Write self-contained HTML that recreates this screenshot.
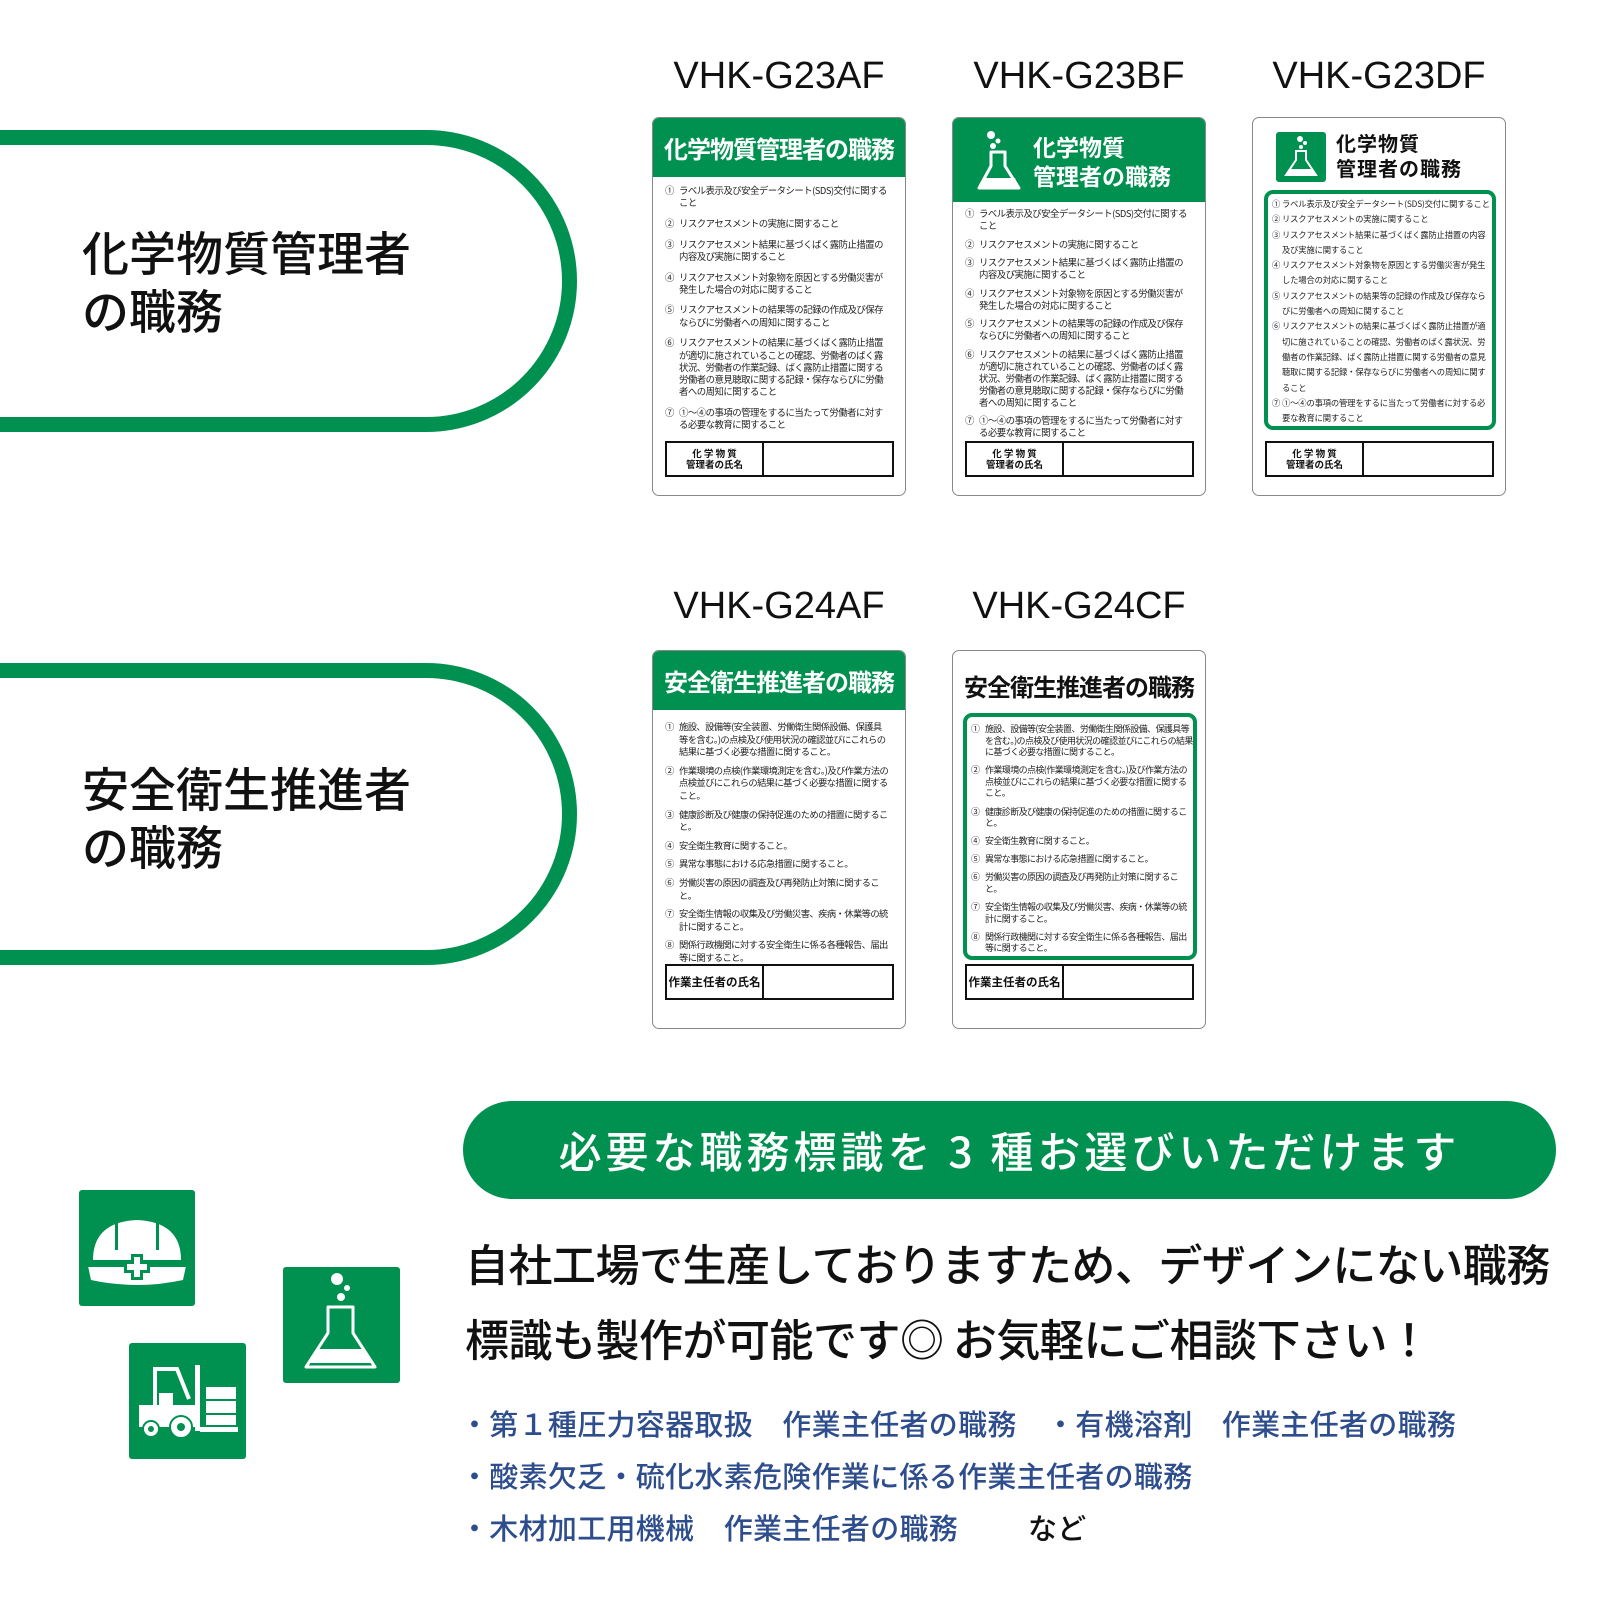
<!DOCTYPE html>
<html><head><meta charset="utf-8">
<style>
*{margin:0;padding:0;box-sizing:border-box}
body{width:1600px;height:1600px;background:#fff;position:relative;overflow:hidden;font-family:"Liberation Sans","Noto Sans CJK JP",sans-serif;color:#111}
.abs{position:absolute}
.lbl{position:absolute;width:300px;text-align:center;font-size:38px;font-family:"Liberation Sans",sans-serif;color:#111;line-height:40px}
.card{position:absolute;width:254px;height:379px;border:1.5px solid #888;border-radius:7px;background:#fff;overflow:hidden}
.hdr{position:absolute;left:0;top:0;width:100%;background:#009150;color:#fff;font-weight:bold;font-family:"Noto Sans CJK JP",sans-serif}
.items{position:absolute;font-family:"Noto Sans CJK JP",sans-serif;font-size:9.4px;line-height:12.2px;color:#222;letter-spacing:-0.5px}
.it{position:relative;padding-left:14px;margin-bottom:8.5px}
.it span{position:absolute;left:0;top:0}
.name{position:absolute;border:2.5px solid #111;height:36px;display:flex;background:#fff}
.name .l{width:97px;border-right:2px solid #111;font-family:"Noto Sans CJK JP",sans-serif;font-weight:bold;font-size:9.5px;line-height:11px;display:flex;align-items:center;justify-content:center;text-align:center}
.pill{position:absolute;left:-40px;width:617px;border:15px solid #009150;border-radius:0 151px 151px 0}
.pt{position:absolute;left:82px;font-family:"Noto Sans CJK JP",sans-serif;font-weight:500;font-size:47px;line-height:58px;color:#111}
.g3 .items{font-size:8.3px;line-height:15.3px;letter-spacing:-0.15px}
.g3 .it{padding-left:10px;margin-bottom:0}
.blue{position:absolute;left:460px;font-family:"Noto Sans CJK JP",sans-serif;font-size:29px;line-height:36px;color:#2e4d8c;white-space:pre;font-weight:500;letter-spacing:0.3px}
</style></head><body>

<div class="pill" style="top:130px;height:302px"></div>
<div class="pt" style="top:222px">化学物質管理者<br>の職務</div>
<div class="pill" style="top:663px;height:302px"></div>
<div class="pt" style="top:758px">安全衛生推進者<br>の職務</div>

<div class="lbl" style="left:629px;top:56px">VHK-G23AF</div>
<div class="lbl" style="left:929px;top:56px">VHK-G23BF</div>
<div class="lbl" style="left:1229px;top:56px">VHK-G23DF</div>
<div class="lbl" style="left:629px;top:586px">VHK-G24AF</div>
<div class="lbl" style="left:929px;top:586px">VHK-G24CF</div>

<!-- Card G23AF -->
<div class="card" style="left:652px;top:117px">
 <div class="hdr" style="height:59px;font-size:24px;line-height:59px;text-align:center;letter-spacing:-1px">化学物質管理者の職務</div>
 <div class="items" style="left:12px;top:66px;width:222px">
  <div class="it"><span>①</span>ラベル表示及び安全データシート(SDS)交付に関すること</div>
  <div class="it"><span>②</span>リスクアセスメントの実施に関すること</div>
  <div class="it"><span>③</span>リスクアセスメント結果に基づくばく露防止措置の内容及び実施に関すること</div>
  <div class="it"><span>④</span>リスクアセスメント対象物を原因とする労働災害が発生した場合の対応に関すること</div>
  <div class="it"><span>⑤</span>リスクアセスメントの結果等の記録の作成及び保存ならびに労働者への周知に関すること</div>
  <div class="it"><span>⑥</span>リスクアセスメントの結果に基づくばく露防止措置が適切に施されていることの確認、労働者のばく露状況、労働者の作業記録、ばく露防止措置に関する労働者の意見聴取に関する記録・保存ならびに労働者への周知に関すること</div>
  <div class="it"><span>⑦</span>①〜④の事項の管理をするに当たって労働者に対する必要な教育に関すること</div>
 </div>
 <div class="name" style="left:12px;top:323px;width:229px"><div class="l">化 学 物 質<br>管理者の氏名</div></div>
</div>

<!-- Card G23BF -->
<div class="card" style="left:952px;top:117px">
 <div class="hdr" style="height:84px">
  <svg class="abs" style="left:24px;top:12px" width="46" height="62" viewBox="0 0 46 62"><circle cx="14" cy="5" r="4" fill="#fff"/><circle cx="21" cy="11" r="2.5" fill="#fff"/><circle cx="16" cy="16" r="3" fill="#fff"/><path d="M14 22h14v14l14 22H2l12-22z" fill="none" stroke="#fff" stroke-width="3" stroke-linejoin="round"/><path d="M8 48h30l4 10H4z" fill="#fff"/></svg>
  <div class="abs" style="left:80px;top:14px;font-size:23px;line-height:29px">化学物質<br>管理者の職務</div>
 </div>
 <div class="items" style="left:12px;top:89px;width:222px;line-height:12px">
  <div class="it" style="margin-bottom:6.5px"><span>①</span>ラベル表示及び安全データシート(SDS)交付に関すること</div>
  <div class="it" style="margin-bottom:6.5px"><span>②</span>リスクアセスメントの実施に関すること</div>
  <div class="it" style="margin-bottom:6.5px"><span>③</span>リスクアセスメント結果に基づくばく露防止措置の内容及び実施に関すること</div>
  <div class="it" style="margin-bottom:6.5px"><span>④</span>リスクアセスメント対象物を原因とする労働災害が発生した場合の対応に関すること</div>
  <div class="it" style="margin-bottom:6.5px"><span>⑤</span>リスクアセスメントの結果等の記録の作成及び保存ならびに労働者への周知に関すること</div>
  <div class="it" style="margin-bottom:6.5px"><span>⑥</span>リスクアセスメントの結果に基づくばく露防止措置が適切に施されていることの確認、労働者のばく露状況、労働者の作業記録、ばく露防止措置に関する労働者の意見聴取に関する記録・保存ならびに労働者への周知に関すること</div>
  <div class="it" style="margin-bottom:6.5px"><span>⑦</span>①〜④の事項の管理をするに当たって労働者に対する必要な教育に関すること</div>
 </div>
 <div class="name" style="left:12px;top:323px;width:229px"><div class="l">化 学 物 質<br>管理者の氏名</div></div>
</div>

<!-- Card G23DF -->
<div class="card g3" style="left:1252px;top:117px">
 <div class="abs" style="left:23px;top:14px;width:50px;height:50px;background:#009150;border-radius:3px">
  <svg width="50" height="50" viewBox="0 0 50 50"><circle cx="24" cy="7" r="3" fill="#fff"/><circle cx="29" cy="11" r="2" fill="#fff"/><circle cx="25" cy="15" r="2" fill="#fff"/><path d="M20 19h10v9l10 15H10l10-15z" fill="none" stroke="#fff" stroke-width="2"/><path d="M14 37h22l3 5H11z" fill="#fff"/></svg>
 </div>
 <div class="abs" style="left:83px;top:12px;font-family:'Noto Sans CJK JP',sans-serif;font-weight:bold;font-size:20px;line-height:25px;letter-spacing:1px">化学物質<br>管理者の職務</div>
 <div class="abs" style="left:11px;top:72px;width:232px;height:240px;border:4px solid #009150;border-radius:9px"></div>
 <div class="items" style="left:19px;top:79px;width:220px">
  <div class="it"><span>①</span>ラベル表示及び安全データシート(SDS)交付に関すること</div>
  <div class="it"><span>②</span>リスクアセスメントの実施に関すること</div>
  <div class="it"><span>③</span>リスクアセスメント結果に基づくばく露防止措置の内容及び実施に関すること</div>
  <div class="it"><span>④</span>リスクアセスメント対象物を原因とする労働災害が発生した場合の対応に関すること</div>
  <div class="it"><span>⑤</span>リスクアセスメントの結果等の記録の作成及び保存ならびに労働者への周知に関すること</div>
  <div class="it"><span>⑥</span>リスクアセスメントの結果に基づくばく露防止措置が適切に施されていることの確認、労働者のばく露状況、労働者の作業記録、ばく露防止措置に関する労働者の意見聴取に関する記録・保存ならびに労働者への周知に関すること</div>
  <div class="it"><span>⑦</span>①〜④の事項の管理をするに当たって労働者に対する必要な教育に関すること</div>
 </div>
 <div class="name" style="left:12px;top:323px;width:229px"><div class="l">化 学 物 質<br>管理者の氏名</div></div>
</div>

<!-- Card G24AF -->
<div class="card" style="left:652px;top:650px">
 <div class="hdr" style="height:59px;font-size:24px;line-height:59px;text-align:center;letter-spacing:-1px">安全衛生推進者の職務</div>
 <div class="items" style="left:12px;top:69px;width:224px;line-height:12.6px;font-size:9.3px;letter-spacing:-0.6px">
  <div class="it" style="margin-bottom:6px"><span>①</span>施設、設備等(安全装置、労働衛生関係設備、保護具等を含む。)の点検及び使用状況の確認並びにこれらの結果に基づく必要な措置に関すること。</div>
  <div class="it" style="margin-bottom:6px"><span>②</span>作業環境の点検(作業環境測定を含む。)及び作業方法の点検並びにこれらの結果に基づく必要な措置に関すること。</div>
  <div class="it" style="margin-bottom:6px"><span>③</span>健康診断及び健康の保持促進のための措置に関すること。</div>
  <div class="it" style="margin-bottom:6px"><span>④</span>安全衛生教育に関すること。</div>
  <div class="it" style="margin-bottom:6px"><span>⑤</span>異常な事態における応急措置に関すること。</div>
  <div class="it" style="margin-bottom:6px"><span>⑥</span>労働災害の原因の調査及び再発防止対策に関すること。</div>
  <div class="it" style="margin-bottom:6px"><span>⑦</span>安全衛生情報の収集及び労働災害、疾病・休業等の統計に関すること。</div>
  <div class="it" style="margin-bottom:6px"><span>⑧</span>関係行政機関に対する安全衛生に係る各種報告、届出等に関すること。</div>
 </div>
 <div class="name" style="left:12px;top:313px;width:229px"><div class="l" style="font-size:11.5px">作業主任者の氏名</div></div>
</div>

<!-- Card G24CF -->
<div class="card" style="left:952px;top:650px">
 <div class="abs" style="left:0;top:18px;width:100%;text-align:center;font-family:'Noto Sans CJK JP',sans-serif;font-weight:bold;font-size:24px;letter-spacing:-1px;line-height:34px">安全衛生推進者の職務</div>
 <div class="abs" style="left:10px;top:62px;width:234px;height:247px;border:4px solid #009150;border-radius:9px"></div>
 <div class="items" style="left:18px;top:72px;width:222px;line-height:11.6px;font-size:9px;letter-spacing:-0.6px">
  <div class="it" style="margin-bottom:6.5px"><span>①</span>施設、設備等(安全装置、労働衛生関係設備、保護具等を含む。)の点検及び使用状況の確認並びにこれらの結果に基づく必要な措置に関すること。</div>
  <div class="it" style="margin-bottom:6.5px"><span>②</span>作業環境の点検(作業環境測定を含む。)及び作業方法の点検並びにこれらの結果に基づく必要な措置に関すること。</div>
  <div class="it" style="margin-bottom:6.5px"><span>③</span>健康診断及び健康の保持促進のための措置に関すること。</div>
  <div class="it" style="margin-bottom:6.5px"><span>④</span>安全衛生教育に関すること。</div>
  <div class="it" style="margin-bottom:6.5px"><span>⑤</span>異常な事態における応急措置に関すること。</div>
  <div class="it" style="margin-bottom:6.5px"><span>⑥</span>労働災害の原因の調査及び再発防止対策に関すること。</div>
  <div class="it" style="margin-bottom:6.5px"><span>⑦</span>安全衛生情報の収集及び労働災害、疾病・休業等の統計に関すること。</div>
  <div class="it" style="margin-bottom:6.5px"><span>⑧</span>関係行政機関に対する安全衛生に係る各種報告、届出等に関すること。</div>
 </div>
 <div class="name" style="left:12px;top:313px;width:229px"><div class="l" style="font-size:11.5px">作業主任者の氏名</div></div>
</div>

<!-- icons -->
<div class="abs" style="left:79px;top:1190px;width:116px;height:116px;background:#009150;border-radius:3px">
 <svg width="116" height="116" viewBox="0 0 116 116"><path d="M14 70 Q14 32 58 30 Q102 32 102 70 Z" fill="#fff"/><path d="M9 76 Q58 70 107 76 L104 90 Q58 100 12 90 Z" fill="#fff"/><rect x="36" y="30" width="3" height="30" fill="#009150"/><rect x="77" y="30" width="3" height="30" fill="#009150"/><rect x="9" y="72" width="98" height="5" fill="#009150"/><rect x="52" y="64" width="12" height="26" fill="#009150"/><rect x="45" y="71" width="26" height="12" fill="#009150"/><rect x="55" y="67" width="6" height="20" fill="#fff"/><rect x="48" y="74" width="20" height="6" fill="#fff"/></svg>
</div>
<div class="abs" style="left:129px;top:1343px;width:117px;height:116px;background:#009150;border-radius:3px">
 <svg width="117" height="116" viewBox="0 0 117 116"><rect x="10" y="62" width="60" height="22" fill="#fff"/><path d="M26 62V26h22l12 30" fill="none" stroke="#fff" stroke-width="4"/><rect x="30" y="50" width="14" height="12" fill="#fff"/><rect x="66" y="22" width="5" height="66" fill="#fff"/><rect x="71" y="84" width="38" height="5" fill="#fff"/><rect x="77" y="44" width="30" height="12" fill="#fff"/><rect x="77" y="58" width="30" height="12" fill="#fff"/><rect x="77" y="72" width="30" height="10" fill="#fff"/><circle cx="22" cy="86" r="8" fill="#fff" stroke="#009150" stroke-width="2"/><circle cx="22" cy="86" r="3" fill="#009150"/><circle cx="52" cy="84" r="11" fill="#fff" stroke="#009150" stroke-width="2"/><circle cx="52" cy="84" r="4" fill="#009150"/></svg>
</div>
<div class="abs" style="left:283px;top:1267px;width:117px;height:116px;background:#009150;border-radius:3px">
 <svg width="117" height="116" viewBox="0 0 117 116"><circle cx="54" cy="12" r="6" fill="#fff"/><circle cx="64" cy="21" r="3" fill="#fff"/><circle cx="58" cy="30" r="4" fill="#fff"/><path d="M45 40h25v26l22 34H23l22-34z" fill="none" stroke="#fff" stroke-width="3" stroke-linejoin="round"/><path d="M33 82h49l8 14H26z" fill="#fff"/></svg>
</div>

<!-- bottom -->
<div class="abs" style="left:463px;top:1101px;width:1093px;height:98px;background:#009150;border-radius:49px;color:#fff;font-family:'Noto Sans CJK JP',sans-serif;font-weight:500;font-size:43px;line-height:98px;text-align:center;letter-spacing:4px">必要な職務標識を 3 種お選びいただけます</div>
<div class="abs" style="left:465px;top:1234px;font-family:'Noto Sans CJK JP',sans-serif;font-weight:500;font-size:44px;line-height:56px;white-space:nowrap;letter-spacing:-0.5px">自社工場で生産しておりますため、デザインにない職務</div>
<div class="abs" style="left:465px;top:1309px;font-family:'Noto Sans CJK JP',sans-serif;font-weight:500;font-size:44px;line-height:56px;white-space:nowrap;letter-spacing:-0.5px">標識も製作が可能です◎ お気軽にご相談下さい！</div>
<div class="blue" style="top:1405px">・第１種圧力容器取扱　作業主任者の職務　・有機溶剤　作業主任者の職務</div>
<div class="blue" style="top:1457px">・酸素欠乏・硫化水素危険作業に係る作業主任者の職務</div>
<div class="blue" style="top:1509px">・木材加工用機械　作業主任者の職務</div>
<div class="blue" style="top:1509px;left:1028px;color:#111">など</div>
</body></html>
